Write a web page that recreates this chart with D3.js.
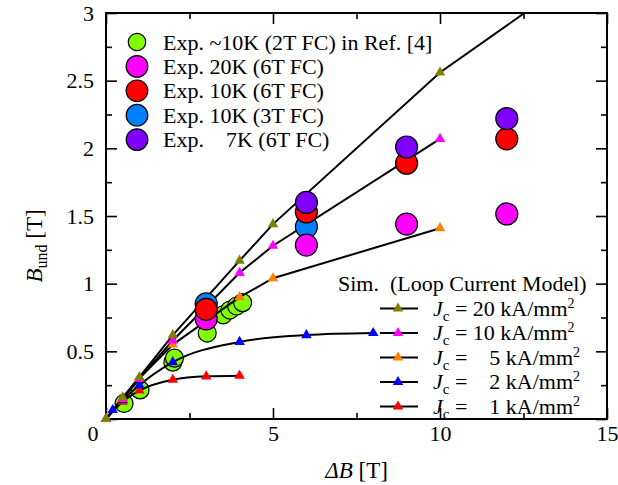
<!DOCTYPE html>
<html>
<head>
<meta charset="utf-8">
<script src="https://cdn.jsdelivr.net/npm/d3@7"></script>
<style>
body { margin: 0; background: #fff; }
svg text { font-family: "Times New Roman", "Liberation Serif", Times, serif; fill: #000; }
</style>
</head>
<body>
<script>
// simulation, loop current model : [dB, Bund]
var jc20 = [[0,0],[0.5,0.16],[1,0.31],[2,0.62],[4,1.17],[5,1.44],[10,2.56],[15,3.43]];
var jc10 = [[0,0],[0.5,0.15],[1,0.30],[2,0.58],[4,1.08],[5,1.28],[10,2.07]];
var jc5  = [[0,0],[0.5,0.15],[1,0.30],[2,0.55],[4,0.90],[5,1.04],[10,1.41]];
var jc2  = [[0,0],[0.2,0.066],[0.5,0.14],[1,0.25],[2,0.42],[4,0.57],[6,0.62],[8,0.635]];
var jc1  = [[0,0],[0.5,0.128],[1,0.21],[2,0.29],[3,0.315],[4,0.32]];
var simNames  = ["20", "10", "\u2007 5", "\u2007 2", "\u2007 1"];
var simColors = ["#808000", "#ff00ff", "#ff8000", "#0000ff", "#ff0000"];

// experiments
var expRef4   = [[0.54,0.115],[1.02,0.215],[2.0,0.42],[2.05,0.45],[3.03,0.635],[3.51,0.77],[3.71,0.805],[3.91,0.835],[4.09,0.86]];
var exp20K6T  = [[3,0.74],[6,1.285],[9,1.44],[12,1.515]];
var exp10K6T  = [[3,0.81],[6,1.53],[9,1.89],[12,2.07]];
var exp10K3T  = [[3,0.85],[6,1.42]];
var exp7K6T   = [[6,1.60],[9,2.01],[12,2.22]];
var expNames  = ["Exp. ~10K (2T FC) in Ref. [4]", "Exp. 20K (6T FC)", "Exp. 10K (6T FC)", "Exp. 10K (3T FC)", "Exp. \u2007 7K (6T FC)"];
var expColors = ["#80ff00", "#ff00ff", "#ff0000", "#0080ff", "#8000ff"];

var xMajor = [0, 5, 10, 15];
var xMinor = [2.5, 7.5, 12.5];
var yMajor = [0, 0.5, 1, 1.5, 2, 2.5, 3];
var yMinor = [0.25, 0.75, 1.25, 1.75, 2.25, 2.75];

var W = 618, H = 485;
var m = { left: 106, top: 13, right: 11, bottom: 66 };
var w = W - m.left - m.right, h = H - m.top - m.bottom;

var x = d3.scaleLinear().domain([0, 15]).range([0, w]);
var y = d3.scaleLinear().domain([0, 3]).range([h, 0]);

var svg = d3.select("body").append("svg")
    .attr("width", W)
    .attr("height", H);

svg.append("defs").append("clipPath")
    .attr("id", "clip")
    .append("rect")
    .attr("x", -12)
    .attr("y", 0)
    .attr("width", w + 12)
    .attr("height", h + 12);

var g = svg.append("g").attr("transform", "translate(" + m.left + "," + m.top + ")");

// axes, ticks inward on four sides
function styleAxis(sel, labels) {
    sel.attr("font-size", 22).attr("font-family", null);
    sel.select(".domain").remove();
    sel.selectAll(".tick line").attr("stroke", "#000").attr("stroke-width", 1.6);
    if (!labels) sel.selectAll(".tick text").remove();
}
var noZero = function (d) { return d === 0 ? "" : d3.format("")(d); };

g.append("g").attr("transform", "translate(0," + h + ")")
    .call(d3.axisBottom(x).tickValues(xMajor).tickSize(-11).tickPadding(6).tickFormat(noZero))
    .call(styleAxis, true);
g.append("g").attr("transform", "translate(0," + h + ")")
    .call(d3.axisBottom(x).tickValues(xMinor).tickSize(-6)).call(styleAxis, false);
g.append("g")
    .call(d3.axisTop(x).tickValues(xMajor).tickSize(-11)).call(styleAxis, false);
g.append("g")
    .call(d3.axisTop(x).tickValues(xMinor).tickSize(-6)).call(styleAxis, false);
g.append("g")
    .call(d3.axisLeft(y).tickValues(yMajor).tickSize(-11).tickPadding(12).tickFormat(noZero))
    .call(styleAxis, true);
g.append("g")
    .call(d3.axisLeft(y).tickValues(yMinor).tickSize(-6)).call(styleAxis, false);
g.append("g").attr("transform", "translate(" + w + ",0)")
    .call(d3.axisRight(y).tickValues(yMajor).tickSize(-11)).call(styleAxis, false);
g.append("g").attr("transform", "translate(" + w + ",0)")
    .call(d3.axisRight(y).tickValues(yMinor).tickSize(-6)).call(styleAxis, false);

// shared zero at the corner
g.append("text")
    .attr("x", x(0) - 13)
    .attr("y", y(0) + 22)
    .attr("text-anchor", "middle")
    .attr("font-size", 22)
    .text("0");

g.append("rect")
    .attr("width", w)
    .attr("height", h)
    .attr("fill", "none")
    .attr("stroke", "#000")
    .attr("stroke-width", 2);

var plot = g.append("g").attr("clip-path", "url(#clip)");

function circles(data, color, r) {
    plot.append("g").selectAll("circle")
        .data(data)
        .join("circle")
        .attr("cx", function (d) { return x(d[0]); })
        .attr("cy", function (d) { return y(d[1]); })
        .attr("r", r)
        .attr("fill", color)
        .attr("stroke", "#000")
        .attr("stroke-width", 1.2);
}

circles(expRef4, expColors[0], 9);

var lineStraight = d3.line()
    .x(function (d) { return x(d[0]); })
    .y(function (d) { return y(d[1]); });
var lineSmooth = d3.line()
    .x(function (d) { return x(d[0]); })
    .y(function (d) { return y(d[1]); })
    .curve(d3.curveMonotoneX);

var sims = [jc20, jc10, jc5, jc2, jc1];
var tri = d3.symbol(d3.symbolTriangle, 48);

sims.forEach(function (s, i) {
    plot.append("path")
        .attr("d", i < 3 ? lineStraight(s) : lineSmooth(s))
        .attr("fill", "none")
        .attr("stroke", "#000")
        .attr("stroke-width", 2);
});
for (var i = sims.length - 1; i >= 0; i--) {
    plot.append("g").selectAll("path")
        .data(sims[i])
        .join("path")
        .attr("d", tri)
        .attr("transform", function (d) { return "translate(" + x(d[0]) + "," + y(d[1]) + ")"; })
        .attr("fill", simColors[i]);
}

circles(exp10K3T, expColors[3], 11);
circles(exp20K6T, expColors[1], 11);
circles(exp10K6T, expColors[2], 11);
circles(exp7K6T, expColors[4], 11);

// experiment legend
var leg = svg.append("g").attr("transform", "translate(137,42)");
expNames.forEach(function (t, i) {
    leg.append("circle")
        .attr("cx", 0)
        .attr("cy", i * 24.4)
        .attr("r", i === 0 ? 8.7 : 10.8)
        .attr("fill", expColors[i])
        .attr("stroke", "#000")
        .attr("stroke-width", 1.2);
    leg.append("text")
        .attr("x", 26)
        .attr("y", i * 24.4 + 7.5)
        .attr("font-size", 22)
        .style("white-space", "pre")
        .text(t);
});

// simulation legend
var sleg = svg.append("g").attr("transform", "translate(0,285)");
sleg.append("text")
    .attr("x", 338)
    .attr("y", 6)
    .attr("font-size", 22)
    .style("white-space", "pre")
    .text("Sim.  (Loop Current Model)");
simNames.forEach(function (t, i) {
    var yy = 23.5 + i * 24.5;
    sleg.append("line")
        .attr("x1", 380).attr("x2", 418)
        .attr("y1", yy).attr("y2", yy)
        .attr("stroke", "#000")
        .attr("stroke-width", 2);
    sleg.append("path")
        .attr("d", tri)
        .attr("transform", "translate(398," + yy + ")")
        .attr("fill", simColors[i]);
    var tx = sleg.append("text")
        .attr("x", 433)
        .attr("y", yy + 7)
        .attr("font-size", 22)
        .style("white-space", "pre");
    tx.append("tspan").attr("font-style", "italic").text("J");
    tx.append("tspan").attr("font-size", 15).attr("dy", 5).text("c");
    tx.append("tspan").attr("dy", -5).text(" = " + t + " kA/mm");
    tx.append("tspan").attr("font-size", 14).attr("dy", -8).text("2");
});

// axis titles
svg.append("text")
    .attr("x", m.left + w / 2)
    .attr("y", 478)
    .attr("text-anchor", "middle")
    .attr("font-size", 23)
    .call(function (t) {
        t.append("tspan").attr("font-style", "italic").text("\u0394B");
        t.append("tspan").text(" [T]");
    });

svg.append("text")
    .attr("transform", "translate(42,246) rotate(-90)")
    .attr("text-anchor", "middle")
    .attr("font-size", 23)
    .call(function (t) {
        t.append("tspan").attr("font-style", "italic").text("B");
        t.append("tspan").attr("font-size", 16).attr("dy", 5).text("und");
        t.append("tspan").attr("dy", -5).text(" [T]");
    });
</script>
</body>
</html>
